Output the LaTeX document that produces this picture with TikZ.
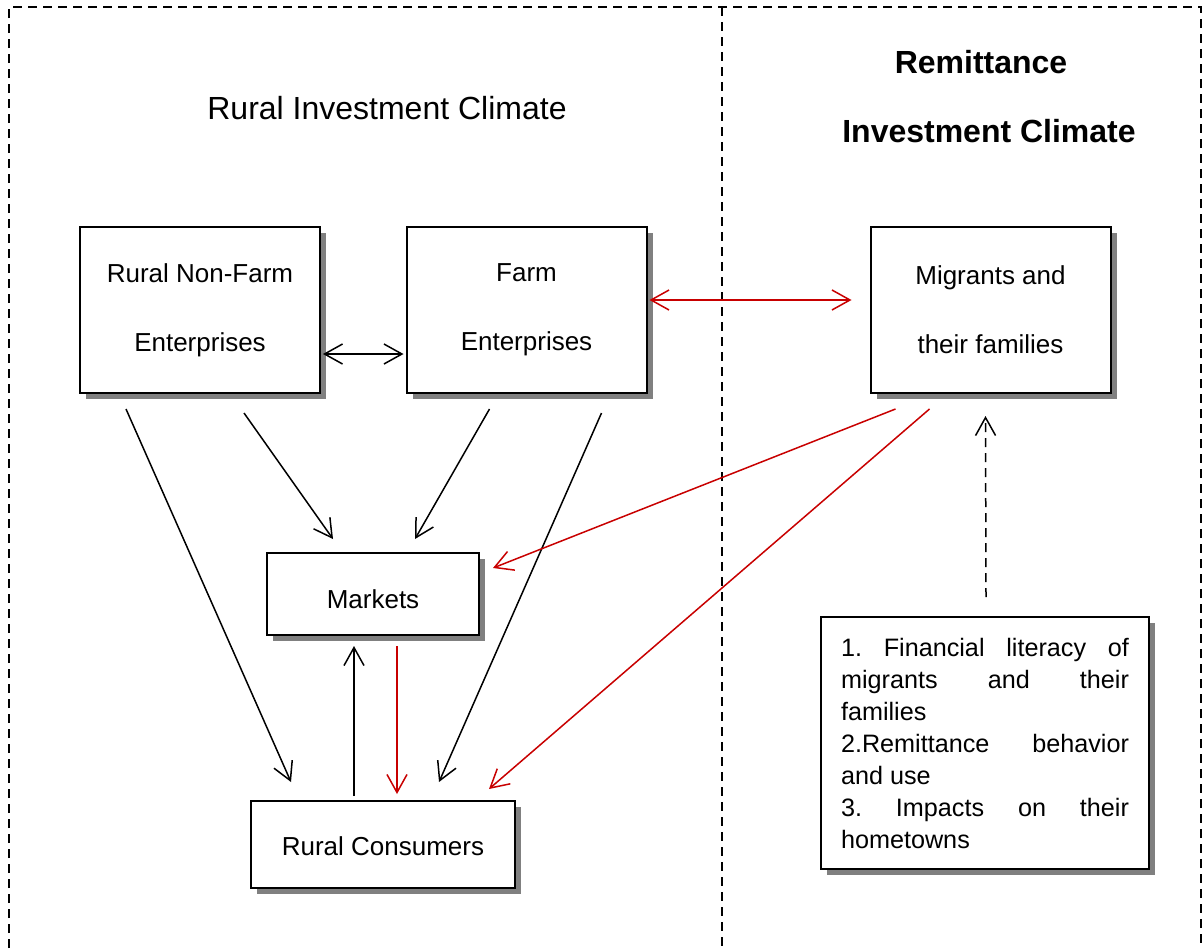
\documentclass[tikz,border=0pt]{standalone}
\usepackage{fontspec}
\setmainfont{Liberation Sans}
\usetikzlibrary{arrows.meta,shadows,positioning}
\definecolor{linkred}{RGB}{200,0,0}
\frenchspacing

\begin{document}
\begin{tikzpicture}[x=0.5pt,y=-0.5pt,>={Straight Barb[length=9pt,width=10pt]},
		box/.style={draw,line width=1pt,fill=white,align=center,inner sep=0pt,font=\fontsize{13}{34.5}\selectfont,drop shadow={shadow xshift=3pt,shadow yshift=-3pt,fill=black!50,opacity=1}},
		bigbox/.style={box,minimum width=120pt,minimum height=83pt},
		listbox/.style={box,align=justify,text width=144pt,inner xsep=10pt,minimum height=126pt,font=\fontsize{12.6}{16}\selectfont},
		title/.style={font=\fontsize{16}{19}\selectfont},
		frame/.style={line width=1pt,dash pattern=on 4.5pt off 3pt},
		link/.style={line width=0.75pt},
		redlink/.style={link,linkred}]
		\useasboundingbox (0,0) rectangle (1204,948);
		\draw[frame] (9,948) |- (1201,7) -- (1201,948);
		\draw[frame] (722,7) -- (722,948);
		
		\node[title] (rural) at (387,108) {Rural Investment Climate};
		\node[title,font=\fontsize{16}{19}\selectfont\bfseries] (remit) at (981,62) {Remittance};
		\node[title,font=\fontsize{16}{19}\selectfont\bfseries] (invest) at (989,131) {Investment Climate};
		
		\node[bigbox] (nonfarm) at (200,310) {Rural Non-Farm\\Enterprises};
		\node[bigbox] (farm) at (526.5,310) {Farm\\Enterprises};
		\node[bigbox,text depth=0pt] (mig) at (990.5,310) {Migrants and\\their families};
		\node[box,minimum width=106pt,minimum height=41pt,text height=14.5pt,text depth=0pt] (markets) at (373,594) {Markets};
		\node[box,minimum width=132pt,minimum height=43.5pt,text height=11pt,text depth=0pt] (cons) at (383,844.5) {Rural Consumers};
		\node[listbox] (list) at (985,743) {1. Financial literacy of\linebreak migrants and their\linebreak families\\2.Remittance behavior\linebreak and use\\3. Impacts on their\linebreak hometowns};
		
		\path[link,<->] ([shift={(2,-40)}]nonfarm.south east) edge ([shift={(-2,-40)}]farm.south west);
		\path[redlink,<->] ([shift={(2,-94)}]farm.south east) edge ([shift={(-18,-94)}]mig.south west);
		\path[link,->] ([shift={(47,15)}]nonfarm.south west) edge ([shift={(41,-18)}]cons.north west)
		               ([shift={(165,19)}]nonfarm.south west) edge ([shift={(67,-13)}]markets.north west)
		               ([shift={(84,15)}]farm.south west) edge ([shift={(149,-13)}]markets.north west)
		               ([shift={(196,19)}]farm.south west) edge ([shift={(189,-18)}]cons.north west)
		               ([shift={(104,-4)}]cons.north west) edge ([shift={(88,10)}]markets.south west);
		\path[redlink,->] ([shift={(26,15)}]mig.south west) edge ([shift={(13,16)}]markets.north east)
		                  ([shift={(60,15)}]mig.south west) edge ([shift={(239,-11)}]cons.north west)
		                  ([shift={(131,10)}]markets.south west) edge ([shift={(147,-6)}]cons.north west);
		\path[link,->,dash pattern=on 4.5pt off 3pt] ([shift={(166,-19)}]list.north west) edge ([shift={(116,22)}]mig.south west);
	\end{tikzpicture}
\end{document}
